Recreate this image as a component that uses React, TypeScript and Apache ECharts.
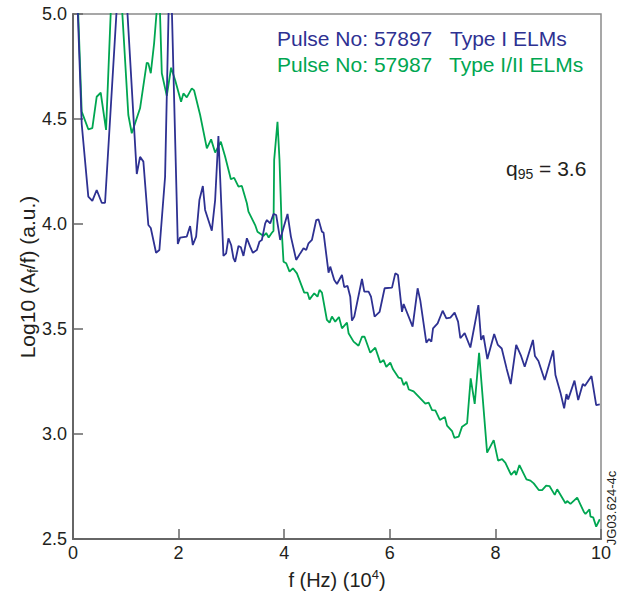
import React, { useEffect, useRef } from "react";
import * as echarts from "echarts";

// Frequency (x 10^4 Hz) and Log10(Af/f) values
const blueFreq = [
  0.076, 0.165, 0.29, 0.366, 0.449, 0.544, 0.607, 0.929, 1.208, 1.27, 1.333, 1.427, 1.473, 1.573, 1.636, 1.744,
  1.839, 1.985, 2.028, 2.155, 2.218, 2.269, 2.332, 2.394, 2.459, 2.502, 2.629, 2.692, 2.754, 2.849, 2.9, 2.944,
  2.995, 3.039, 3.071, 3.134, 3.179, 3.228, 3.293, 3.355, 3.407, 3.482, 3.532, 3.577, 3.64, 3.672, 3.735, 3.797,
  3.848, 3.924, 3.975, 4.063, 4.127, 4.227, 4.303, 4.366, 4.417, 4.461, 4.525, 4.607, 4.65, 4.715, 4.745, 4.84,
  4.872, 4.948, 4.999, 5.094, 5.137, 5.2, 5.251, 5.283, 5.327, 5.473, 5.517, 5.598, 5.644, 5.712, 5.807, 5.902,
  6.042, 6.104, 6.155, 6.231, 6.262, 6.432, 6.527, 6.578, 6.692, 6.743, 6.787, 6.819, 6.906, 7.001, 7.071, 7.147,
  7.228, 7.293, 7.336, 7.418, 7.526, 7.678, 7.729, 7.773, 7.848, 7.977, 8.047, 8.12, 8.214, 8.29, 8.394, 8.48,
  8.555, 8.711, 8.749, 8.815, 8.933, 9.094, 9.137, 9.232, 9.302, 9.346, 9.378, 9.498, 9.568, 9.655, 9.693, 9.82,
  9.909, 9.977,
];
const blueVal = [
  5.114, 4.476, 4.13, 4.11, 4.162, 4.101, 4.101, 5.448, 4.238, 4.32, 4.297, 3.995, 3.981, 3.863, 3.876, 4.225,
  5.352, 3.905, 3.935, 3.94, 3.99, 3.9, 3.94, 4.114, 4.181, 4.067, 3.968, 4.114, 4.419, 3.848, 3.86, 3.932,
  3.9, 3.837, 3.82, 3.895, 3.889, 3.848, 3.932, 3.892, 3.863, 3.876, 3.916, 3.924, 4.003, 4.019, 4.003, 4.048,
  4.043, 3.924, 3.971, 4.048, 3.94, 3.829, 3.86, 3.884, 3.876, 3.908, 3.924, 4.019, 4.022, 3.963, 3.959, 3.768,
  3.797, 3.733, 3.714, 3.757, 3.699, 3.705, 3.654, 3.54, 3.559, 3.738, 3.678, 3.678, 3.654, 3.559, 3.582, 3.694,
  3.697, 3.765, 3.757, 3.582, 3.619, 3.511, 3.694, 3.635, 3.435, 3.452, 3.44, 3.503, 3.527, 3.587, 3.551, 3.554,
  3.578, 3.535, 3.456, 3.48, 3.412, 3.614, 3.448, 3.469, 3.357, 3.476, 3.424, 3.407, 3.31, 3.238, 3.424, 3.376,
  3.32, 3.448, 3.371, 3.348, 3.257, 3.398, 3.281, 3.197, 3.122, 3.19, 3.165, 3.254, 3.162, 3.238, 3.229, 3.276,
  3.138, 3.141,
];
const greenFreq = [
  0.076, 0.165, 0.29, 0.366, 0.449, 0.525, 0.626, 0.724, 0.919, 1.048, 1.113, 1.27, 1.397, 1.427, 1.473, 1.536,
  1.602, 1.64, 1.682, 1.776, 1.858, 1.934, 2.047, 2.091, 2.155, 2.25, 2.294, 2.408, 2.535, 2.616, 2.692, 2.8,
  2.882, 2.99, 3.052, 3.134, 3.198, 3.293, 3.323, 3.45, 3.494, 3.608, 3.659, 3.706, 3.763, 3.797, 3.81, 3.873,
  3.911, 3.956, 3.987, 4.038, 4.101, 4.165, 4.241, 4.379, 4.442, 4.48, 4.569, 4.631, 4.669, 4.715, 4.809, 4.859,
  4.904, 4.967, 5.037, 5.094, 5.189, 5.219, 5.314, 5.408, 5.473, 5.522, 5.63, 5.725, 5.82, 5.882, 5.934, 6.009,
  6.061, 6.167, 6.218, 6.262, 6.313, 6.36, 6.451, 6.578, 6.673, 6.736, 6.8, 6.863, 6.948, 7.043, 7.084, 7.179,
  7.223, 7.304, 7.369, 7.464, 7.532, 7.608, 7.691, 7.843, 7.968, 8.051, 8.127, 8.19, 8.298, 8.366, 8.392, 8.455,
  8.588, 8.664, 8.726, 8.821, 8.885, 8.961, 9.024, 9.124, 9.17, 9.327, 9.359, 9.422, 9.549, 9.674, 9.706, 9.782,
  9.801, 9.852, 9.909, 9.977,
];
const greenVal = [
  5.162, 4.535, 4.451, 4.456, 4.606, 4.625, 4.448, 5.067, 5.067, 4.519, 4.432, 4.551, 4.768, 4.765, 4.718, 4.86,
  5.067, 5.067, 4.718, 4.61, 4.744, 4.686, 4.582, 4.622, 4.603, 4.646, 4.636, 4.519, 4.36, 4.403, 4.34, 4.392,
  4.32, 4.213, 4.22, 4.178, 4.181, 4.099, 4.059, 3.995, 3.963, 3.943, 3.957, 3.936, 3.957, 3.967, 4.305, 4.487,
  4.305, 3.956, 3.82, 3.813, 3.773, 3.789, 3.765, 3.673, 3.673, 3.641, 3.67, 3.654, 3.686, 3.673, 3.543, 3.53,
  3.559, 3.535, 3.557, 3.503, 3.53, 3.48, 3.44, 3.42, 3.463, 3.463, 3.387, 3.411, 3.34, 3.352, 3.32, 3.34,
  3.308, 3.268, 3.265, 3.233, 3.249, 3.212, 3.203, 3.17, 3.145, 3.149, 3.114, 3.112, 3.067, 3.081, 3.04, 3.014,
  2.982, 2.987, 3.035, 3.051, 3.265, 3.143, 3.386, 2.911, 2.971, 2.873, 2.88, 2.863, 2.805, 2.825, 2.805, 2.852,
  2.784, 2.778, 2.765, 2.733, 2.733, 2.754, 2.752, 2.71, 2.737, 2.67, 2.681, 2.667, 2.697, 2.63, 2.619, 2.641,
  2.606, 2.603, 2.559, 2.594,
];

const xTicks = [0, 2, 4, 6, 8, 10];
const yTicks = [2.5, 3.0, 3.5, 4.0, 4.5, 5.0];

const BLUE = "#2e3192";
const GREEN = "#00a651";
const FONT = "'Liberation Sans', Arial, Helvetica, sans-serif";

export default function App() {
  const ref = useRef<HTMLDivElement>(null);

  useEffect(() => {
    document.body.style.margin = "0";
    if (!ref.current) return;
    const chart = echarts.init(ref.current, undefined, { renderer: "svg" });

    const blueData = blueFreq.map((f, i) => [f, blueVal[i]]);
    const greenData = greenFreq.map((f, i) => [f, greenVal[i]]);

    chart.setOption({
      animation: false,
      backgroundColor: "#ffffff",
      grid: {
        left: 73,
        right: 22,
        top: 14,
        bottom: 60,
        show: true,
        borderColor: "#8a8a8a",
        borderWidth: 1.5,
        backgroundColor: "transparent",
      },
      xAxis: {
        type: "value",
        min: xTicks[0],
        max: xTicks[xTicks.length - 1],
        interval: 2,
        axisLine: { show: true, lineStyle: { color: "#666666", width: 2 } },
        axisTick: { show: true, inside: true, length: 10, lineStyle: { color: "#666666", width: 1.5 } },
        splitLine: { show: false },
        axisLabel: { fontSize: 18, color: "#231f20", fontFamily: FONT, margin: 5 },
      },
      yAxis: {
        type: "value",
        min: yTicks[0],
        max: yTicks[yTicks.length - 1],
        interval: 0.5,
        axisLine: { show: true, lineStyle: { color: "#666666", width: 2 } },
        axisTick: { show: true, inside: true, length: 10, lineStyle: { color: "#666666", width: 1.5 } },
        splitLine: { show: false },
        axisLabel: {
          fontSize: 18,
          color: "#231f20",
          fontFamily: FONT,
          margin: 6,
          formatter: (v: number) => v.toFixed(1),
        },
      },
      series: [
        {
          type: "line",
          name: "57987",
          data: greenData,
          showSymbol: false,
          clip: true,
          lineStyle: { color: GREEN, width: 1.8 },
          itemStyle: { color: GREEN },
          z: 2,
        },
        {
          type: "line",
          name: "57897",
          data: blueData,
          showSymbol: false,
          clip: true,
          lineStyle: { color: BLUE, width: 1.8 },
          itemStyle: { color: BLUE },
          z: 3,
        },
      ],
      graphic: [
        {
          type: "text",
          left: 277,
          top: 28,
          style: { text: "Pulse No: 57897", fill: BLUE, fontSize: 21, fontFamily: FONT },
        },
        {
          type: "text",
          left: 450,
          top: 28,
          style: { text: "Type I ELMs", fill: BLUE, fontSize: 21, fontFamily: FONT },
        },
        {
          type: "text",
          left: 277,
          top: 54,
          style: { text: "Pulse No: 57987", fill: GREEN, fontSize: 21, fontFamily: FONT },
        },
        {
          type: "text",
          left: 449,
          top: 54,
          style: { text: "Type I/II ELMs", fill: GREEN, fontSize: 21, fontFamily: FONT },
        },
        {
          type: "text",
          left: 506,
          top: 158,
          style: {
            text: "{n|q}{s|95}{n| = 3.6}",
            fill: "#231f20",
            fontFamily: FONT,
            rich: {
              n: { fontSize: 21, fontFamily: FONT, fill: "#231f20", lineHeight: 25, verticalAlign: "middle" },
              s: { fontSize: 14, fontFamily: FONT, fill: "#231f20", lineHeight: 25, verticalAlign: "bottom" },
            },
          },
        },
        {
          type: "text",
          x: 27,
          y: 277,
          rotation: Math.PI / 2,
          style: {
            text: "{n|Log10 (A}{s|f}{n|/f) (a.u.)}",
            align: "center",
            verticalAlign: "middle",
            fontFamily: FONT,
            rich: {
              n: { fontSize: 21, fontFamily: FONT, fill: "#231f20", lineHeight: 26, verticalAlign: "middle" },
              s: { fontSize: 14, fontFamily: FONT, fill: "#231f20", lineHeight: 26, verticalAlign: "bottom" },
            },
          },
        },
        {
          type: "text",
          x: 337,
          y: 580,
          style: {
            text: "{n|f (Hz) (10}{p|4}{n|)}",
            align: "center",
            verticalAlign: "middle",
            fontFamily: FONT,
            rich: {
              n: { fontSize: 20, fontFamily: FONT, fill: "#231f20", lineHeight: 24, verticalAlign: "middle" },
              p: { fontSize: 13, fontFamily: FONT, fill: "#231f20", lineHeight: 24, verticalAlign: "top" },
            },
          },
        },
        {
          type: "text",
          x: 611,
          y: 508,
          rotation: Math.PI / 2,
          style: {
            text: "JG03.624-4c",
            align: "center",
            verticalAlign: "middle",
            fill: "#231f20",
            fontSize: 13,
            fontFamily: FONT,
          },
        },
      ],
    });

    return () => {
      chart.dispose();
    };
  }, []);

  return <div ref={ref} style={{ width: 623, height: 599 }} />;
}
